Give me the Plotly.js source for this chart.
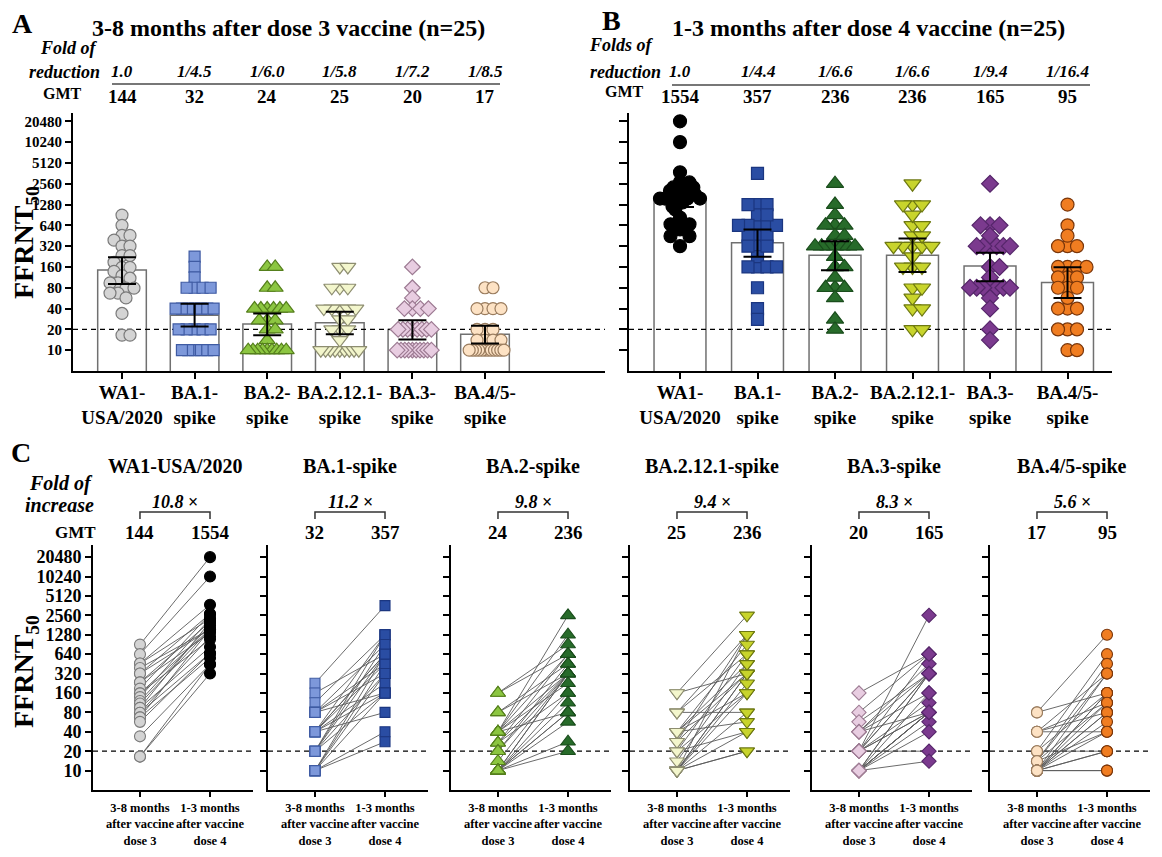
<!DOCTYPE html>
<html><head><meta charset="utf-8">
<script src="https://cdn.plot.ly/plotly-3.0.1.min.js"></script>
<style>html,body{margin:0;padding:0;background:#fff}</style>
</head><body><div id="chart" style="width:1162px;height:857px"></div>
<script>
// ---------------- DATA ----------------
const variants = ['WA1-USA/2020','BA.1-spike','BA.2-spike','BA.2.12.1-spike','BA.3-spike','BA.4/5-spike'];
const tickLabelsAB = ['WA1-<br>USA/2020','BA.1-<br>spike','BA.2-<br>spike','BA.2.12.1-<br>spike','BA.3-<br>spike','BA.4/5-<br>spike'];
const foldA = ['1.0','1/4.5','1/6.0','1/5.8','1/7.2','1/8.5'];
const foldB = ['1.0','1/4.4','1/6.6','1/6.6','1/9.4','1/16.4'];
const foldC = ['10.8','11.2','9.8','9.4','8.3','5.6'];
const gmtDose3 = [144,32,24,25,20,17];
const gmtDose4 = [1554,357,236,236,165,95];
const ciLowDose3 = [91,22,16.5,17,14.3,12.5];
const ciHighDose3 = [221,47,34,36,27,22.6];
const ciLowDose4 = [1180,224,143,135,99,57];
const ciHighDose4 = [2050,558,378,413,256,158];
const yTickVals = [10,20,40,80,160,320,640,1280,2560,5120,10240,20480];
const cutoff = 20;
const cTickText = ['3-8 months<br>after vaccine<br>dose 3','1-3 months<br>after vaccine<br>dose 4'];

// paired titers (same index = same participant)
const wa1Dose3  = [900,640,458,458,391,320,320,234,234,187,158,158,138,120,110,94,94,79,79,67,67,57,34,16.5,16.5];
const wa1Dose4  = [20480,10240,2260,3740,1560,2700,1560,2020,1370,2670,1560,1090,2260,1800,1560,827,2020,662,1200,1560,558,662,447,447,320];
const ba1Dose3  = [226,160,113,80,80,80,80,40,40,40,40,40,40,40,20,20,20,20,20,10,10,10,10,10,10];
const ba1Dose4  = [3620,640,1280,905,453,160,320,1280,640,453,226,640,160,80,1280,320,640,160,905,453,320,640,160,40,28];
const ba2Dose3  = [160,160,80,80,40,40,40,40,40,40,27,27,27,20,20,14,10,10,10,10,10,10,10,10,10];
const ba2Dose4  = [640,905,453,320,2560,1280,320,640,226,80,640,320,160,453,320,320,320,160,113,80,320,80,57,28,20];
const ba2121Dose3 = [160,160,80,80,80,40,40,40,40,40,28,28,20,20,20,14,10,10,10,10,10,10,10,10,10];
const ba2121Dose4 = [2560,320,1280,640,80,905,453,320,160,57,1280,320,640,160,40,453,1280,320,226,320,160,80,40,20,20];
const ba3Dose3  = [160,80,57,40,40,40,40,20,20,20,20,20,20,20,20,10,10,10,10,10,10,10,10,10,10];
const ba3Dose4  = [640,640,320,453,320,80,160,2560,320,80,113,80,20,320,640,320,160,80,320,80,57,80,40,14,80];
const ba45Dose3 = [80,80,40,40,40,40,20,20,20,14,14,14,14,10,10,10,10,10,10,10,10,10,10,10,10];
const ba45Dose4 = [1280,160,320,113,80,40,640,160,20,453,320,113,40,320,160,160,113,80,80,57,40,20,20,10,10];

const dose3Sets = [wa1Dose3, ba1Dose3, ba2Dose3, ba2121Dose3, ba3Dose3, ba45Dose3];
const dose4Sets = [wa1Dose4, ba1Dose4, ba2Dose4, ba2121Dose4, ba3Dose4, ba45Dose4];

// ---------------- STYLE ----------------
const SERIF = 'Liberation Serif, "Times New Roman", Times, serif';
const symbols = ['circle','square','triangle-up','triangle-down','diamond','circle'];
const symSize = [12,11,14,14,12,12];
const dose3Fill = ['#d4d4d4','#7d98da','#8cc641','#f3f6cc','#e8cde1','#fde2c4'];
const dose3Line = ['#7a7a7a','#3f5ba3','#557f1c','#8d8d70','#9c7a92','#9a7c5e'];
const dose4Fill = ['#000000','#2a4da3','#276b2a','#c8d42c','#7b3a8e','#f07d21'];
const dose4Line = ['#000000','#1b3680','#1a4d1c','#6d7812','#55266a','#7a360a'];

const W = 1162, H = 857;
const px = x => x / W;
const py = y => 1 - y / H;

const rangeA = [-0.675, 6.653];
const rangeB = [-0.658, 5.574];
const rangeC = [-0.671, 1.614];
const yRangeAB = [Math.log10(5), Math.log10(27000)];
const yRangeC = [Math.log10(5), Math.log10(31600)];
const cLeft = [93, 268, 451, 630, 812, 990];

// beeswarm layout (pixel space), then compress wide rows to the given half-width
function swarmOffsets(vals, pxPerCat, pxPerLog2, minDist, limit) {
  const idx = vals.map((v,i)=>i).sort((a,b)=>vals[b]-vals[a] || a-b);
  const placed = []; const offPx = new Array(vals.length).fill(0);
  const yPx = vals.map(v => Math.log2(v) * pxPerLog2);
  const step = minDist/2;
  for (const i of idx) {
    const yy = yPx[i];
    let chosen = 0;
    for (let k=0;k<300;k++) {
      const m = Math.ceil(k/2), cand = (k%2 ? 1 : -1) * m * step;
      let ok = true;
      for (const p of placed) { const dx=p.x-cand, dy=p.y-yy; if (dx*dx+dy*dy < minDist*minDist-1e-6) { ok=false; break; } }
      if (ok) { chosen = cand; break; }
    }
    placed.push({x:chosen, y:yy}); offPx[i] = chosen;
  }
  return offPx.map((o,i) => {
    let m = 0;
    offPx.forEach((o2,j) => { if (Math.abs(yPx[j]-yPx[i]) < minDist) m = Math.max(m, Math.abs(o2)); });
    const s = m > limit ? limit/m : 1;
    return o * s / pxPerCat;
  });
}

const traces = [];
function panelAB(xa, ya, sets, gmt, lo, hi, fills, lines, xr, pxPerCat, minDist, limit, sizeAdd) {
  traces.push({type:'bar', x:[0,1,2,3,4,5], y:gmt, width:0.67, xaxis:xa, yaxis:ya,
    marker:{color:'#ffffff', line:{color:'#707070', width:1.5}}, hoverinfo:'skip'});
  traces.push({type:'scatter', mode:'lines', x:xr, y:[cutoff,cutoff], xaxis:xa, yaxis:ya,
    line:{color:'#000', width:1.3, dash:'5px,4px'}, hoverinfo:'skip'});
  sets.forEach((vals, i) => {
    const off = swarmOffsets(vals, pxPerCat, 20.8, minDist, limit);
    traces.push({type:'scatter', mode:'markers', xaxis:xa, yaxis:ya,
      x: vals.map((v,j)=>i+off[j]), y: vals,
      marker:{symbol:symbols[i], size:symSize[i]+sizeAdd, color:fills[i], line:{color:lines[i], width:1.2}}});
  });
  traces.push({type:'scatter', mode:'markers', x:[0,1,2,3,4,5], y:gmt, xaxis:xa, yaxis:ya,
    marker:{size:2, color:'rgba(0,0,0,0)'},
    error_y:{type:'data', symmetric:false, array:hi.map((h,i)=>h-gmt[i]), arrayminus:lo.map((l,i)=>gmt[i]-l),
      color:'#000', thickness:2, width:14}});
}
panelAB('x','y', dose3Sets, gmtDose3, ciLowDose3, ciHighDose3, dose3Fill, dose3Line, rangeA, 72.6, 8, 19, 0);
panelAB('x2','y2', dose4Sets, gmtDose4, ciLowDose4, ciHighDose4, dose4Fill, dose4Line, rangeB, 77.5, 9.5, 20, 1);

for (let k=0;k<6;k++) {
  const xa = 'x'+(3+k), ya = 'y'+(3+k);
  const lx = [], ly = [];
  dose3Sets[k].forEach((v,j)=>{ lx.push(0,1,null); ly.push(v, dose4Sets[k][j], null); });
  traces.push({type:'scatter', mode:'lines', x:rangeC, y:[cutoff,cutoff], xaxis:xa, yaxis:ya,
    line:{color:'#000', width:1.3, dash:'5px,4px'}, hoverinfo:'skip'});
  traces.push({type:'scatter', mode:'lines', x:lx, y:ly, xaxis:xa, yaxis:ya, connectgaps:false,
    line:{color:'#5a5a5a', width:0.9}, hoverinfo:'skip'});
  traces.push({type:'scatter', mode:'markers', x:dose3Sets[k].map(()=>0), y:dose3Sets[k], xaxis:xa, yaxis:ya,
    marker:{symbol:symbols[k], size:symSize[k]-1, color:dose3Fill[k], line:{color:dose3Line[k], width:1.1}}});
  traces.push({type:'scatter', mode:'markers', x:dose4Sets[k].map(()=>1), y:dose4Sets[k], xaxis:xa, yaxis:ya,
    marker:{symbol:symbols[k], size:symSize[k]-1, color:dose4Fill[k], line:{color:dose4Line[k], width:1.1}}});
}

// ---------------- LAYOUT ----------------
const baseAxis = {showline:true, linecolor:'#000', linewidth:2, ticks:'outside', ticklen:6, tickwidth:2,
  tickcolor:'#000', zeroline:false, showgrid:false, fixedrange:true};
const yTickText = yTickVals.map(String);
const layout = {width:W, height:H, margin:{l:0,r:0,t:0,b:0}, paper_bgcolor:'#fff', plot_bgcolor:'rgba(0,0,0,0)',
  showlegend:false, font:{family:SERIF, color:'#000'}, annotations:[], shapes:[]};

layout.xaxis = Object.assign({}, baseAxis, {domain:[px(73),px(605)], range:rangeA, anchor:'y', tickangle:0,
  tickvals:[0,1,2,3,4,5], ticktext:tickLabelsAB, ticklabelstandoff:-3, tickfont:{family:SERIF,size:19,weight:'bold',color:'#000'}});
layout.yaxis = Object.assign({}, baseAxis, {domain:[py(371),py(113)], type:'log', range:yRangeAB, anchor:'x',
  tickvals:yTickVals, ticktext:yTickText, tickfont:{family:SERIF,size:15,weight:'bold',color:'#000'}});
layout.xaxis2 = Object.assign({}, baseAxis, {domain:[px(629),px(1112)], range:rangeB, anchor:'y2', tickangle:0,
  tickvals:[0,1,2,3,4,5], ticktext:tickLabelsAB, ticklabelstandoff:-3, tickfont:{family:SERIF,size:19,weight:'bold',color:'#000'}});
layout.yaxis2 = Object.assign({}, baseAxis, {domain:[py(371),py(113)], type:'log', range:yRangeAB, anchor:'x2',
  tickvals:yTickVals, showticklabels:false, ticklen:8});
for (let k=0;k<6;k++) {
  layout['xaxis'+(3+k)] = Object.assign({}, baseAxis, {domain:[px(cLeft[k]), px(cLeft[k]+160)], range:rangeC,
    anchor:'y'+(3+k), tickvals:[0,1], ticktext:cTickText, ticklen:5, tickangle:0,
    tickfont:{family:SERIF,size:12.5,weight:'bold',color:'#000'}});
  layout['yaxis'+(3+k)] = Object.assign({}, baseAxis, {domain:[py(790), py(545)], type:'log', range:yRangeC,
    anchor:'x'+(3+k), tickvals:yTickVals, ticktext:yTickText, showticklabels:k===0,
    tickfont:{family:SERIF,size:18,weight:'bold',color:'#000'}});
}

function ann(text, x, y, size, xanchor, extra) {
  layout.annotations.push(Object.assign({text:text, x:px(x), y:py(y), xref:'paper', yref:'paper', showarrow:false,
    xanchor:xanchor||'center', yanchor:'middle', font:{family:SERIF, size:size, color:'#000'}}, extra||{}));
}
function annData(text, xref, x, y, size) {
  layout.annotations.push({text:text, x:x, y:py(y), xref:xref, yref:'paper', showarrow:false,
    xanchor:'center', yanchor:'middle', font:{family:SERIF, size:size, color:'#000'}});
}

ann('<b>A</b>', 10, 24, 28, 'left');
ann('<b>B</b>', 600, 20, 28, 'left');
ann('<b>C</b>', 9, 452, 28, 'left');
ann('<b>3-8 months after dose 3 vaccine (n=25)</b>', 288, 28, 24);
ann('<b>1-3 months after dose 4 vaccine (n=25)</b>', 868, 28, 24);
ann('<b><i>Fold of</i></b>', 100, 48, 18, 'right');
ann('<b><i>reduction</i></b>', 102, 72, 18, 'right');
ann('<b>GMT</b>', 84, 93, 16, 'right');
ann('<b><i>Folds of</i></b>', 656, 45, 18, 'right');
ann('<b><i>reduction</i></b>', 663, 72, 18, 'right');
ann('<b>GMT</b>', 646, 91, 16, 'right');
ann('<b>FFRNT<sub>50</sub></b>', 25, 243, 28, 'center', {textangle:-90});
ann('<b>FFRNT<sub>50</sub></b>', 25, 672, 28, 'center', {textangle:-90});
for (let i=0;i<6;i++) {
  annData('<b><i>'+foldA[i]+'</i></b>', 'x', i, 72, 17);
  annData('<b>'+gmtDose3[i]+'</b>', 'x', i, 97, 19);
  annData('<b><i>'+foldB[i]+'</i></b>', 'x2', i, 72, 17);
  annData('<b>'+gmtDose4[i]+'</b>', 'x2', i, 97, 19);
}
layout.shapes.push({type:'line', xref:'paper', yref:'paper', x0:px(112), x1:px(500), y0:py(84), y1:py(84), line:{color:'#777', width:2}});
layout.shapes.push({type:'line', xref:'paper', yref:'paper', x0:px(672), x1:px(1090), y0:py(85), y1:py(85), line:{color:'#777', width:2}});

ann('<b><i>Fold of</i></b>', 95, 483, 20, 'right');
ann('<b><i>increase</i></b>', 96, 505, 20, 'right');
ann('<b>GMT</b>', 98, 532, 17, 'right');
for (let k=0;k<6;k++) {
  const xr = 'x'+(3+k);
  annData('<b>'+variants[k]+'</b>', xr, 0.5, 466, 20);
  annData('<b><i>'+foldC[k]+'</i> ×</b>', xr, 0.5, 502, 18);
  annData('<b>'+gmtDose3[k]+'</b>', xr, 0, 532, 19);
  annData('<b>'+gmtDose4[k]+'</b>', xr, 1, 532, 19);
  layout.shapes.push({type:'path', xref:xr, yref:'paper',
    path:`M 0,${py(519)} L 0,${py(512)} L 1,${py(512)} L 1,${py(519)}`, line:{color:'#333', width:1.5}});
}

Plotly.newPlot('chart', traces, layout, {staticPlot:true, displayModeBar:false});
</script></body></html>
